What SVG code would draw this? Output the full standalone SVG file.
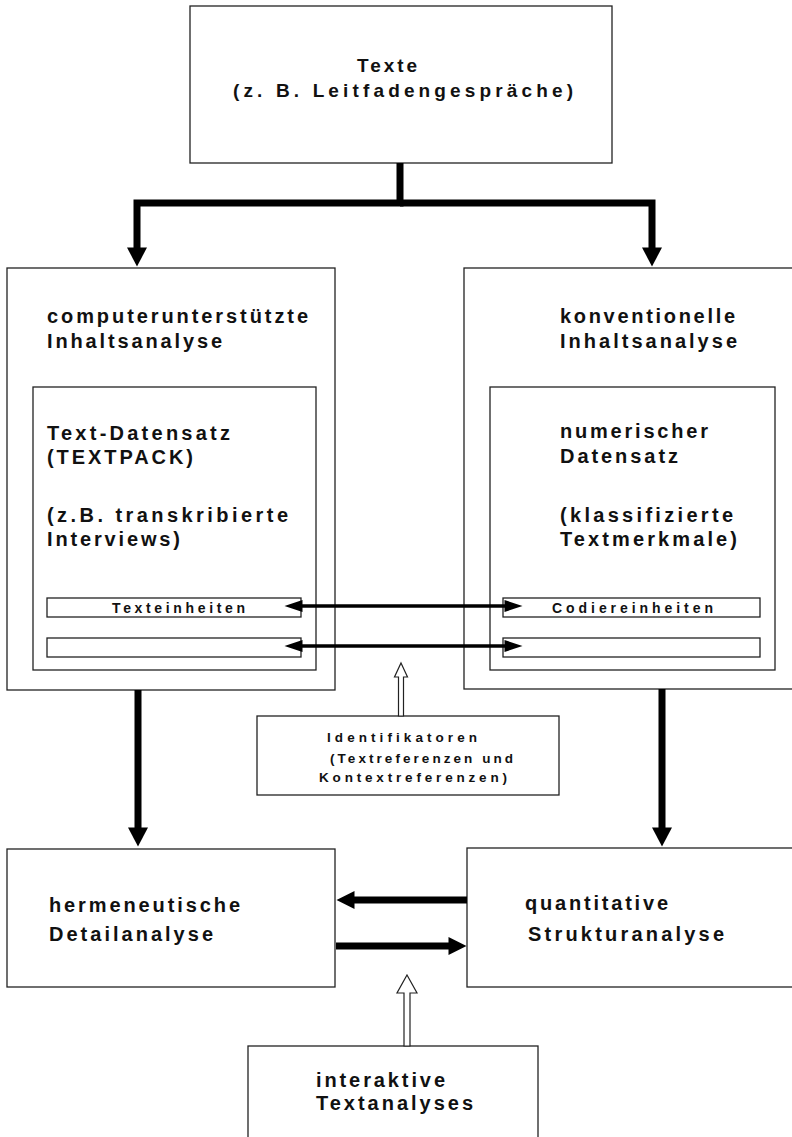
<svg xmlns="http://www.w3.org/2000/svg" width="792" height="1137" viewBox="0 0 792 1137">
<style>
.box{fill:#fff;stroke:#222;stroke-width:1.3}
.t{font-family:"Liberation Sans",Arial,sans-serif;font-weight:bold;fill:#111}
.l{font-size:20px}
.m{font-size:19px}
.s{font-size:14px}
.xs{font-size:13.5px}
.thick{fill:none;stroke:#000;stroke-width:7;stroke-linejoin:miter}
.mid{fill:none;stroke:#000;stroke-width:7}
.thin{fill:none;stroke:#000;stroke-width:3.5}
.hollow{fill:#fff;stroke:#222;stroke-width:1.2}
</style>
<defs>
<marker id="bigHead" markerUnits="userSpaceOnUse" markerWidth="20" markerHeight="20" refX="0.5" refY="10" orient="auto" overflow="visible">
<path d="M0,0 L19,10 L0,20 Z" fill="#000"/>
</marker>
<marker id="midHead" markerUnits="userSpaceOnUse" markerWidth="18" markerHeight="18" refX="0.5" refY="9" orient="auto" overflow="visible">
<path d="M0,0 L18,9 L0,18 Z" fill="#000"/>
</marker>
<marker id="smallHead" markerUnits="userSpaceOnUse" markerWidth="18" markerHeight="12" refX="0.5" refY="6" orient="auto" overflow="visible">
<path d="M0,0 L18,6 L0,12 Z" fill="#000"/>
</marker>
<marker id="smallHeadStart" markerUnits="userSpaceOnUse" markerWidth="18" markerHeight="12" refX="17.5" refY="6" orient="auto" overflow="visible">
<path d="M18,0 L0,6 L18,12 Z" fill="#000"/>
</marker>
</defs>

<g id="node-texte">
<rect class="box" x="190" y="6" width="422" height="157"/>
<text class="t m" x="357" y="72" textLength="60" lengthAdjust="spacing">Texte</text>
<text class="t m" x="233" y="97" textLength="340" lengthAdjust="spacing">(z. B. Leitfadengespräche)</text>
</g>

<g id="node-computer">
<rect class="box" x="7" y="268" width="328" height="422"/>
<text class="t l" x="47" y="323" textLength="261" lengthAdjust="spacing">computerunterstützte</text>
<text class="t l" x="47" y="348" textLength="175" lengthAdjust="spacing">Inhaltsanalyse</text>
<g id="node-textdatensatz">
<rect class="box" x="33" y="387" width="283" height="283"/>
<text class="t l" x="47" y="440" textLength="183" lengthAdjust="spacing">Text-Datensatz</text>
<text class="t l" x="47" y="464" textLength="146" lengthAdjust="spacing">(TEXTPACK)</text>
<text class="t l" x="47" y="522" textLength="241" lengthAdjust="spacing">(z.B. transkribierte</text>
<text class="t l" x="47" y="546" textLength="133" lengthAdjust="spacing">Interviews)</text>
<g id="node-texteinheiten">
<rect class="box" x="47" y="598" width="254" height="19"/>
<text class="t s" x="112" y="613" textLength="133" lengthAdjust="spacing">Texteinheiten</text>
</g>
<g id="node-text-leer">
<rect class="box" x="47" y="638" width="254" height="19"/>
</g>
</g>
</g>

<g id="node-konventionell">
<rect class="box" x="464" y="268" width="340" height="421"/>
<text class="t l" x="560" y="323" textLength="175" lengthAdjust="spacing">konventionelle</text>
<text class="t l" x="560" y="348" textLength="177" lengthAdjust="spacing">Inhaltsanalyse</text>
<g id="node-numerisch">
<rect class="box" x="490" y="387" width="285" height="283"/>
<text class="t l" x="560" y="438" textLength="148" lengthAdjust="spacing">numerischer</text>
<text class="t l" x="560" y="463" textLength="118" lengthAdjust="spacing">Datensatz</text>
<text class="t l" x="560" y="522" textLength="173" lengthAdjust="spacing">(klassifizierte</text>
<text class="t l" x="560" y="546" textLength="177" lengthAdjust="spacing">Textmerkmale)</text>
<g id="node-codiereinheiten">
<rect class="box" x="503" y="598" width="257" height="19"/>
<text class="t s" x="552" y="613" textLength="161" lengthAdjust="spacing">Codiereinheiten</text>
</g>
<g id="node-code-leer">
<rect class="box" x="503" y="638" width="257" height="19"/>
</g>
</g>
</g>

<g id="node-identifikatoren">
<rect class="box" x="257" y="716" width="302" height="79"/>
<text class="t xs" x="327" y="742" textLength="150" lengthAdjust="spacing">Identifikatoren</text>
<text class="t xs" x="330" y="763" textLength="183" lengthAdjust="spacing">(Textreferenzen und</text>
<text class="t xs" x="319" y="782" textLength="188" lengthAdjust="spacing">Kontextreferenzen)</text>
</g>

<g id="node-hermeneutisch">
<rect class="box" x="7" y="849" width="328" height="138"/>
<text class="t l" x="49" y="912" textLength="191" lengthAdjust="spacing">hermeneutische</text>
<text class="t l" x="49" y="941" textLength="164" lengthAdjust="spacing">Detailanalyse</text>
</g>

<g id="node-quantitativ">
<rect class="box" x="467" y="848" width="340" height="139"/>
<text class="t l" x="525" y="910" textLength="143" lengthAdjust="spacing">quantitative</text>
<text class="t l" x="528" y="941" textLength="196" lengthAdjust="spacing">Strukturanalyse</text>
</g>

<g id="node-interaktiv">
<rect class="box" x="248" y="1046" width="290" height="110"/>
<text class="t l" x="316" y="1087" textLength="129" lengthAdjust="spacing">interaktive</text>
<text class="t l" x="316" y="1110" textLength="157" lengthAdjust="spacing">Textanalyses</text>
</g>

<g id="connectors">
<path class="thick" d="M400,163 V203 H137 V248" marker-end="url(#bigHead)"/>
<path class="thick" d="M400,203 H652 V248" marker-end="url(#bigHead)"/>
<path class="thick" d="M138,690 V828" marker-end="url(#bigHead)"/>
<path class="thick" d="M662,689 V828" marker-end="url(#bigHead)"/>
<path class="mid" d="M467,900 H354" marker-end="url(#midHead)"/>
<path class="mid" d="M336,946 H449" marker-end="url(#midHead)"/>
<path class="thin" d="M302,606 H505" marker-start="url(#smallHeadStart)" marker-end="url(#smallHead)"/>
<path class="thin" d="M302,646 H505" marker-start="url(#smallHeadStart)" marker-end="url(#smallHead)"/>
<polygon class="hollow" points="401,663 407.5,677 403.5,677 403.5,716 398.5,716 398.5,677 394.5,677"/>
<polygon class="hollow" points="407,975 417,993 410,993 410,1046 404,1046 404,993 397,993"/>
</g>
</svg>
